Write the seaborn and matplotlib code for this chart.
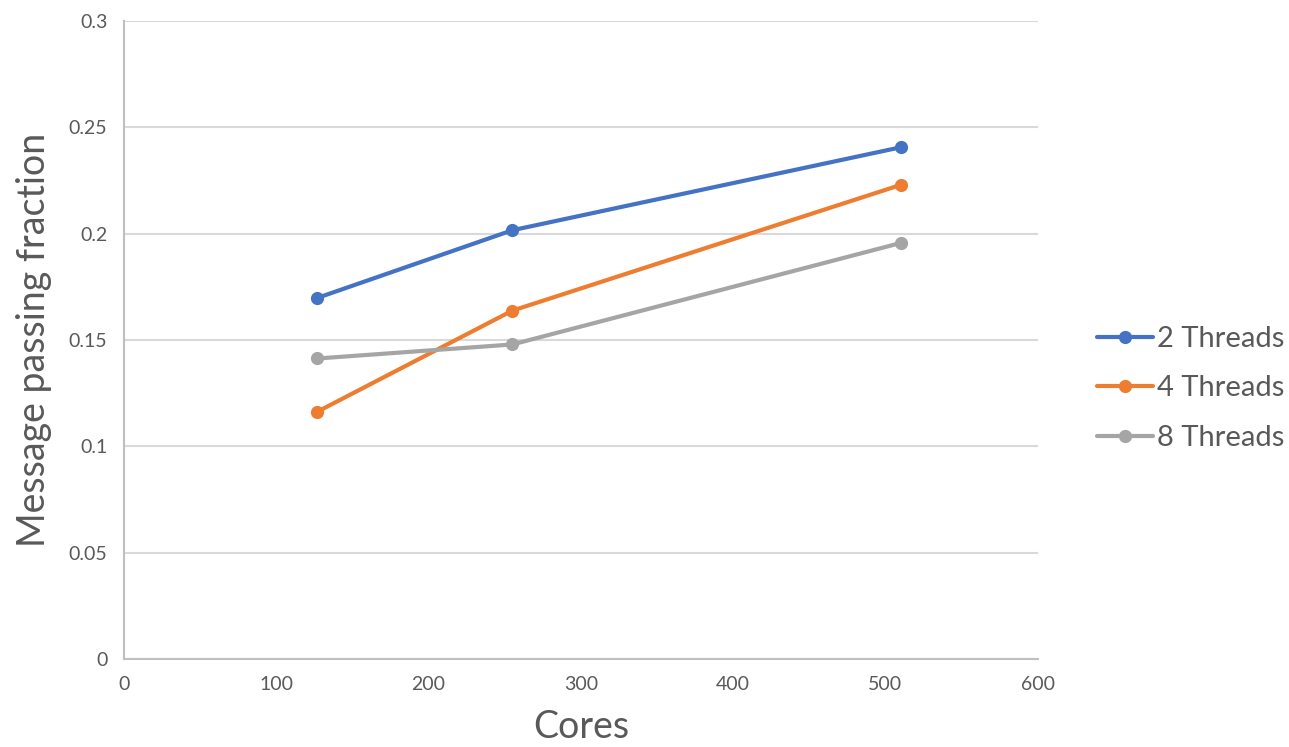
import matplotlib
matplotlib.use("Agg")
import matplotlib.pyplot as plt
import seaborn as sns
import pandas as pd

cores = [127, 255, 510]
threads_2 = [0.1698, 0.2016, 0.2406]
threads_4 = [0.1163, 0.1638, 0.2229]
threads_8 = [0.1413, 0.1479, 0.1956]
series_names = ["2 Threads", "4 Threads", "8 Threads"]
colors = ["#4472C4", "#ED7D31", "#A5A5A5"]

df = pd.DataFrame({
    "Cores": cores * 3,
    "fraction": threads_2 + threads_4 + threads_8,
    "series": [s for s in series_names for _ in cores],
})

sns.set_theme(style="white")
plt.rcParams["font.family"] = ["Lato", "DejaVu Sans"]
text_color = "#595959"

fig = plt.figure(figsize=(12.89, 7.47), dpi=100)
ax = fig.add_axes([0.0962, 0.1178, 0.7088, 0.8541])

sns.lineplot(data=df, x="Cores", y="fraction", hue="series",
             palette=colors, marker="o", markersize=9.5, linewidth=3,
             markeredgewidth=0, ax=ax)

ax.set_xlim(0, 600)
ax.set_ylim(0, 0.3)
ax.set_xticks(range(0, 601, 100))
ax.set_yticks([0, 0.05, 0.1, 0.15, 0.2, 0.25, 0.3])
ax.set_yticklabels(["0", "0.05", "0.1", "0.15", "0.2", "0.25", "0.3"])
ax.yaxis.grid(True, color="#D9D9D9", linewidth=1.5)
ax.xaxis.grid(False)
ax.set_axisbelow(True)
for side in ["top", "right"]:
    ax.spines[side].set_visible(False)
for side in ["left", "bottom"]:
    ax.spines[side].set_color("#BFBFBF")
    ax.spines[side].set_linewidth(1.5)
ax.tick_params(axis="both", length=0, labelsize=14, colors=text_color, pad=12)

ax.set_xlabel("Cores", fontsize=27, color=text_color, labelpad=12)
ax.set_ylabel("Message passing fraction", fontsize=27, color=text_color, labelpad=12)

leg = ax.legend(loc="center left", bbox_to_anchor=(0.851, 0.48),
                bbox_transform=fig.transFigure, frameon=False,
                borderaxespad=0, borderpad=0,
                fontsize=21, handlelength=1.92, handletextpad=0.14,
                labelspacing=0.8, labelcolor=text_color)
for h in leg.legend_handles:
    h.set_linewidth(3)

fig.savefig("out.png", dpi=100)
